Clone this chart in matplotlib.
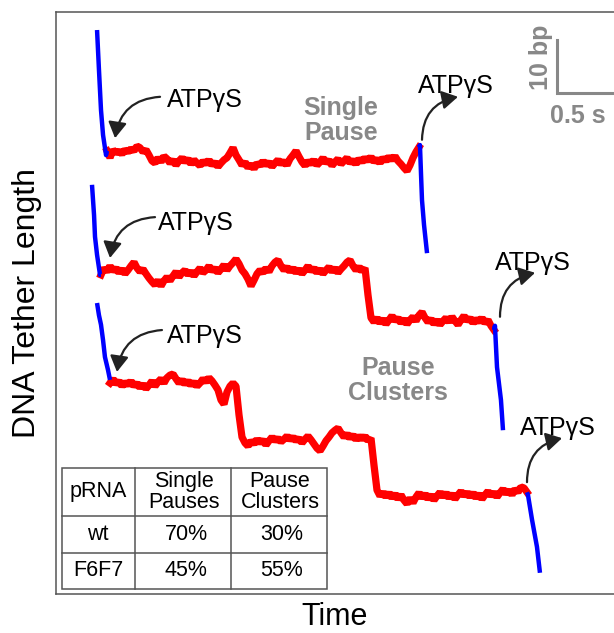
import matplotlib
matplotlib.use("Agg")
import matplotlib.pyplot as plt
from matplotlib.patches import FancyArrowPatch, Rectangle
from matplotlib.lines import Line2D
import numpy as np

plt.rcParams['font.family'] = ['Liberation Sans', 'DejaVu Sans']

# ---------------- data (time in s, tether length in bp) ----------------
DT = 0.025  # sampling interval of the paused segments

# trace 1: single pause
t1_pre = [0.342, 0.358, 0.375, 0.392, 0.417, 0.425]
y1_pre = [106.4, 98.9, 91.3, 86.6, 82.8, 83.6]
t1_start = 0.425
y1_pause = [83.6, 82.3, 83.8, 83.2, 83.6, 83.0, 83.8, 83.4, 84.0, 83.6,
             84.5, 84.2, 83.4, 83.8, 82.8, 81.7, 81.3, 82.3, 81.5, 82.6,
             82.1, 81.3, 81.9, 80.9, 81.7, 82.3, 81.5, 82.1, 81.1, 81.9,
             81.3, 80.8, 81.7, 81.1, 81.9, 80.9, 81.5, 80.6, 81.3, 81.9,
             82.3, 83.2, 84.2, 82.8, 81.9, 80.9, 81.5, 80.4, 81.1, 80.2,
             81.3, 80.8, 81.7, 80.9, 81.5, 80.6, 81.3, 81.9, 81.1, 81.7,
             80.9, 82.1, 82.8, 83.6, 82.5, 81.5, 80.8, 81.7, 81.1, 81.9,
             80.9, 81.5, 82.3, 81.3, 81.9, 80.8, 81.5, 82.1, 81.1, 81.7,
             82.3, 81.3, 81.9, 81.1, 82.1, 81.5, 82.3, 81.7, 82.5, 81.5,
             82.1, 81.3, 82.3, 81.7, 82.5, 81.9, 82.6, 81.7, 81.1, 80.4,
             79.8, 80.9, 82.3, 83.4, 84.3]
t1_post = [3.025, 3.033, 3.042, 3.050, 3.067, 3.092]
y1_post = [84.3, 84.7, 79.1, 74.3, 69.6, 64.3]

# trace 2: pause cluster with one step
t2_pre = [0.300, 0.317, 0.325, 0.342, 0.367, 0.375]
y2_pre = [77.2, 71.5, 67.4, 64.0, 60.2, 60.2]
t2_start = 0.375
y2_pause = [60.2, 61.5, 60.8, 61.9, 60.9, 61.5, 60.6, 61.3, 60.4, 61.1,
            61.9, 62.6, 61.5, 60.8, 61.3, 60.4, 59.6, 58.9, 58.3, 59.2,
            58.1, 59.1, 59.8, 59.1, 60.0, 60.8, 59.8, 60.6, 61.1, 60.2,
            60.9, 60.0, 60.8, 61.5, 60.6, 61.1, 61.9, 60.9, 61.5, 60.6,
            61.3, 62.1, 61.1, 61.9, 62.5, 63.2, 62.3, 61.1, 60.4, 59.4,
            58.1, 59.2, 60.4, 61.1, 60.6, 61.5, 60.8, 61.9, 62.6, 63.0,
            61.9, 61.1, 61.7, 60.8, 61.5, 60.6, 61.3, 60.4, 61.1, 61.9,
            60.9, 61.5, 60.6, 61.3, 60.4, 61.1, 61.7, 60.8, 61.5, 60.6,
            61.3, 61.9, 62.6, 63.0, 61.9, 61.1, 61.7, 60.9, 61.5, 56.4,
            52.1, 51.3, 52.1, 51.1, 51.9, 50.9, 51.7, 52.5, 51.5, 52.1,
            51.1, 51.9, 50.9, 51.7, 52.3, 51.5, 52.6, 53.2, 52.1, 51.3,
            51.9, 50.9, 51.7, 50.8, 51.5, 52.1, 51.3, 52.3, 51.5, 50.8,
            51.7, 52.5, 51.5, 52.1, 51.1, 51.9, 51.3, 52.1, 51.1, 51.7,
            50.6, 49.8]
t2_post = [3.650, 3.658, 3.675, 3.708, 3.725]
y2_post = [49.8, 50.6, 42.8, 36.6, 30.9]

# trace 3: pause cluster with two steps
t3_pre = [0.342, 0.358, 0.375, 0.392, 0.408, 0.433, 0.450]
y3_pre = [54.9, 52.6, 50.8, 47.9, 44.7, 42.3, 40.4]
t3_start = 0.450
y3_pause = [39.8, 40.6, 39.6, 40.2, 39.2, 40.0, 39.4, 40.2, 39.2, 39.8,
            38.9, 39.6, 38.7, 39.4, 40.2, 39.2, 40.0, 40.6, 39.8, 40.8,
            41.3, 41.5, 40.6, 39.8, 40.4, 39.6, 40.2, 39.4, 40.0, 39.2,
            39.8, 40.6, 40.0, 40.8, 40.2, 39.4, 38.5, 36.6, 35.8, 38.1,
            39.2, 39.8, 39.2, 33.8, 29.6, 28.5, 27.9, 28.9, 28.3, 29.2,
            28.5, 29.1, 28.1, 28.9, 29.6, 28.9, 29.4, 28.7, 29.2, 29.8,
            29.1, 29.6, 28.9, 29.4, 28.5, 29.2, 29.8, 29.1, 28.3, 27.5,
            27.0, 27.9, 28.9, 29.6, 30.4, 30.9, 31.3, 30.4, 29.6, 30.2,
            29.4, 30.0, 29.1, 29.8, 29.2, 29.8, 28.9, 29.4, 24.3, 19.6,
            18.5, 19.2, 18.3, 19.1, 18.1, 18.9, 17.9, 18.7, 17.7, 17.0,
            18.1, 17.2, 18.3, 19.1, 18.1, 18.9, 17.9, 18.7, 17.7, 18.5,
            19.2, 18.3, 19.1, 18.1, 18.9, 17.9, 18.7, 19.4, 18.5, 19.2,
            18.3, 19.1, 18.1, 18.9, 17.9, 18.7, 19.4, 18.5, 19.2, 18.3,
            19.1, 19.8, 18.9, 19.6, 18.7, 19.8, 19.2, 20.2, 20.0, 19.2]
t3_post = [3.925, 3.933, 3.967, 4.008, 4.033]
y3_post = [19.2, 18.7, 14.0, 8.9, 4.0]

# ATPγS annotations: (text anchor, arrow start, arrow tip, curvature)
atp_text = [(0.925, 91.9), (3.017, 94.5), (0.850, 68.7),
            (0.925, 47.4), (3.658, 61.1), (3.867, 30.0)]
atp_from = [(0.867, 93.8), (3.050, 85.7), (0.825, 71.1),
            (0.883, 49.8), (3.700, 52.3), (3.925, 21.1)]
atp_to = [(0.492, 86.0), (3.350, 93.8), (0.450, 63.4),
          (0.508, 41.9), (3.992, 60.6), (4.217, 29.4)]
atp_rad = [0.4, -0.4, 0.4, 0.4, -0.4, -0.4]

# scale bar
bar_t, bar_y = 4.175, 94.5
bar_dt, bar_dy = 0.5, 10.0

# summary table
table_cols = ["pRNA", "Single\nPauses", "Pause\nClusters"]
table_rows = [["wt", "70%", "30%"], ["F6F7", "45%", "55%"]]

# ---------------- figure ----------------
W, H = 614, 633
fig = plt.figure(figsize=(W / 100, H / 100), dpi=100)
ax = fig.add_axes([56 / W, (H - 594) / H, 558 / W, 582 / H])
ax.set_xlim(0, 4.65)
ax.set_ylim(0, 109.8)
ax.set_xticks([])
ax.set_yticks([])
for side in ["left", "top", "bottom"]:
    ax.spines[side].set_color("#555555")
    ax.spines[side].set_linewidth(1.1)
ax.spines["right"].set_visible(False)

RED, BLUE = "#ff0000", "#0000ff"


def paused(t0, vals):
    return t0 + DT * np.arange(len(vals)), np.asarray(vals)


for tp, yp, t0, vals, tq, yq in [
        (t1_pre, y1_pre, t1_start, y1_pause, t1_post, y1_post),
        (t2_pre, y2_pre, t2_start, y2_pause, t2_post, y2_post),
        (t3_pre, y3_pre, t3_start, y3_pause, t3_post, y3_post)]:
    tt, yy = paused(t0, vals)
    ax.plot(tt, yy, color=RED, lw=5.2, solid_joinstyle="bevel")
    ax.plot(tp, yp, color=BLUE, lw=3.2, solid_capstyle="butt")
    ax.plot(tq, yq, color=BLUE, lw=3.2, solid_capstyle="butt")

for (tx, ty), p0, p1, rad in zip(atp_text, atp_from, atp_to, atp_rad):
    ax.text(tx, ty, "ATPγS", fontsize=18, ha="left", va="baseline",
            color="black")
    arr = FancyArrowPatch(p0, p1, connectionstyle=f"arc3,rad={rad}",
                          arrowstyle="-|>,head_length=0.6,head_width=0.35",
                          mutation_scale=16, lw=1.6, color="#222222",
                          shrinkA=0, shrinkB=0)
    ax.add_patch(arr)

GRAY = "#888888"
ax.text(2.375, 89.3, "Single\nPause", fontsize=18, fontweight="bold",
        color=GRAY, ha="center", va="center", linespacing=1.05)
ax.text(2.85, 40.3, "Pause\nClusters", fontsize=18, fontweight="bold",
        color=GRAY, ha="center", va="center", linespacing=1.05)

# scale bar
ax.plot([bar_t, bar_t, bar_t + bar_dt], [bar_y + bar_dy, bar_y, bar_y],
        color=GRAY, lw=2.2, solid_joinstyle="miter", clip_on=True)
ax.text(bar_t - 0.13, bar_y + bar_dy / 2 + 1.8, "10 bp", rotation=90,
        fontsize=18, fontweight="bold", color=GRAY, ha="center", va="center")
ax.text(bar_t - 0.06, bar_y - 2.0, "0.5 s", fontsize=18, fontweight="bold",
        color=GRAY, ha="left", va="top")

ax.set_ylabel("DNA Tether Length", fontsize=23, labelpad=10)
ax.set_xlabel("Time", fontsize=22, labelpad=6)


# table drawn in figure pixels
def fx(px):
    return px / W


def fy(py):
    return 1 - py / H


xs = [62, 135, 231, 327]
ys = [468, 516, 553, 589]
fig.add_artist(Rectangle((fx(xs[0]), fy(ys[-1])), fx(xs[-1]) - fx(xs[0]),
                         fy(ys[0]) - fy(ys[-1]), transform=fig.transFigure,
                         facecolor="white", edgecolor="#555555", lw=1.1,
                         zorder=5))
for x in xs[1:-1]:
    fig.add_artist(Line2D([fx(x), fx(x)], [fy(ys[0]), fy(ys[-1])],
                          color="#555555", lw=1.1, zorder=6))
for y in ys[1:-1]:
    fig.add_artist(Line2D([fx(xs[0]), fx(xs[-1])], [fy(y), fy(y)],
                          color="#555555", lw=1.1, zorder=6))
col_cx = [98, 184, 280]
for c, label in enumerate(table_cols):
    fig.text(fx(col_cx[c]), fy((ys[0] + ys[1]) / 2), label, fontsize=15.5,
             ha="center", va="center", linespacing=0.95, zorder=7)
for r, row in enumerate(table_rows):
    for c, val in enumerate(row):
        fig.text(fx(col_cx[c] + (2 if c else 0)), fy((ys[r + 1] + ys[r + 2]) / 2),
                 val, fontsize=15.5, ha="center", va="center", zorder=7)

fig.savefig("out.png", dpi=100)
